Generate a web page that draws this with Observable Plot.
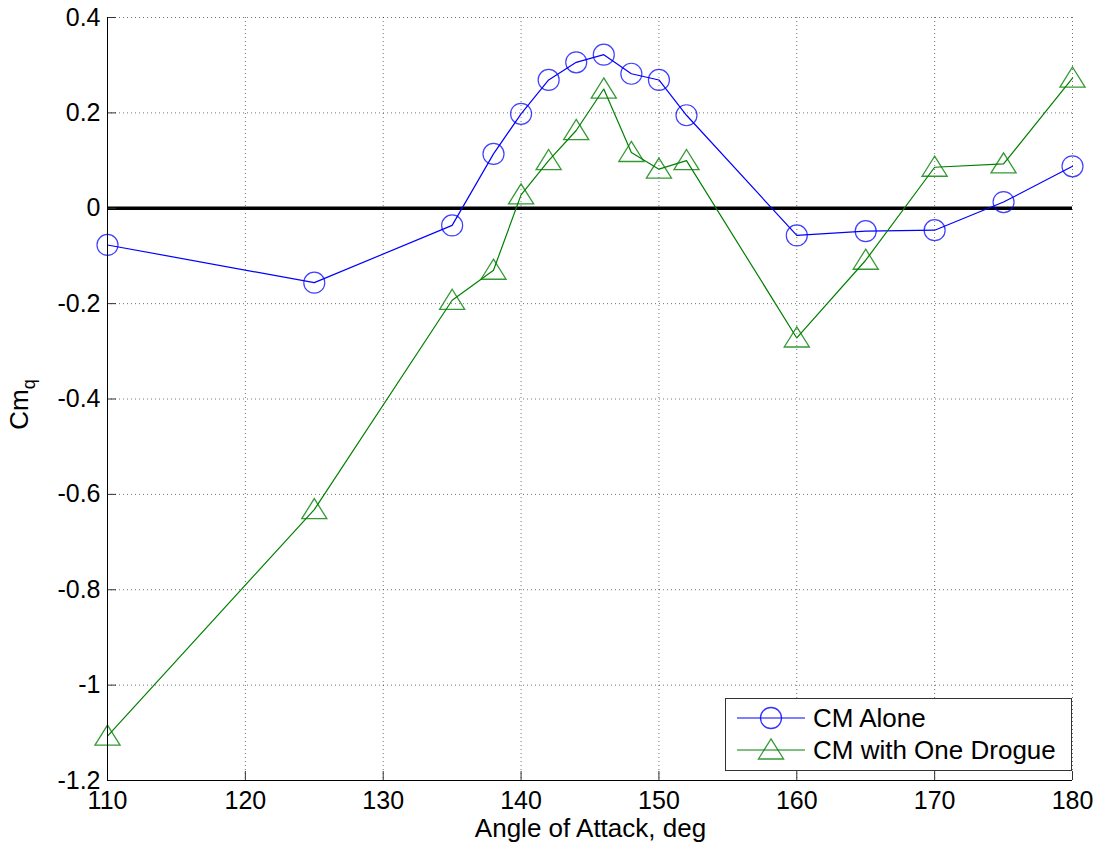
<!DOCTYPE html>
<html>
<head>
<meta charset="utf-8">
<script src="https://cdn.jsdelivr.net/npm/d3@7"></script>
<script src="https://cdn.jsdelivr.net/npm/@observablehq/plot@0.6"></script>
<style>
  html, body { margin: 0; padding: 0; background: #fff; }
  #chart svg { display: block; }
</style>
</head>
<body>
<div id="chart"></div>
<script>
// ---- data ----
const angles = [110, 125, 135, 138, 140, 142, 144, 146, 148, 150, 152, 160, 165, 170, 175, 180];
const cmAlone = [-0.077, -0.156, -0.036, 0.114, 0.198, 0.269, 0.306, 0.322, 0.282, 0.269, 0.195, -0.057, -0.048, -0.046, 0.013, 0.088];
const cmDrogue = [-1.107, -0.632, -0.193, -0.130, 0.028, 0.100, 0.163, 0.250, 0.117, 0.082, 0.100, -0.272, -0.109, 0.086, 0.093, 0.273];
const seriesNames = ["CM Alone", "CM with One Drogue"];
const seriesColors = ["#0000ff", "#008000"];
const xTicks = [110, 120, 130, 140, 150, 160, 170, 180];
const yTicks = [-1.2, -1, -0.8, -0.6, -0.4, -0.2, 0, 0.2, 0.4];
const xLabel = "Angle of Attack, deg";

const alone = angles.map((a, i) => ({x: a, y: cmAlone[i]}));
const drogue = angles.map((a, i) => ({x: a, y: cmDrogue[i]}));

const FONT = "'Liberation Sans', Arial, Helvetica, sans-serif";

// MATLAB-like triangle: apex up, roughly box-centred
const triangleSym = {
  draw(context, size) {
    const r = Math.sqrt(size / Math.PI);
    const w = r * 1.35, top = r * 1.19, bot = r * 0.97;
    context.moveTo(0, -top);
    context.lineTo(w, bot);
    context.lineTo(-w, bot);
    context.closePath();
  }
};

const xMin = xTicks[0], xMax = xTicks[xTicks.length - 1];
const yMin = yTicks[0], yMax = yTicks[yTicks.length - 1];

const fmt = d => String(+d.toFixed(1));

const plot = Plot.plot({
  width: 1102,
  height: 848,
  marginLeft: 107,
  marginRight: 30,
  marginTop: 17,
  marginBottom: 68,
  style: {fontFamily: FONT, fontSize: "25px", color: "#000", background: "#fff"},
  x: {domain: [xMin, xMax]},
  y: {domain: [yMin, yMax]},
  marks: [
    Plot.gridX(xTicks, {stroke: "#000", strokeOpacity: 0.55, strokeDasharray: "1,3"}),
    Plot.gridY(yTicks, {stroke: "#000", strokeOpacity: 0.55, strokeDasharray: "1,3"}),
    Plot.ruleY([0], {stroke: "#000", strokeWidth: 3.5}),
    Plot.line(alone, {x: "x", y: "y", stroke: seriesColors[0], strokeWidth: 1.2}),
    Plot.line(drogue, {x: "x", y: "y", stroke: seriesColors[1], strokeWidth: 1.2}),
    Plot.dot(alone, {x: "x", y: "y", r: 10.5, stroke: seriesColors[0], strokeWidth: 1.2, fill: "none", strokeOpacity: 0.75}),
    Plot.dot(drogue, {x: "x", y: "y", r: 9.3, symbol: triangleSym, stroke: seriesColors[1], strokeWidth: 1.3, fill: "none", strokeOpacity: 0.8}),
    // inward tick marks
    Plot.ruleX(xTicks, {x: d => d, y1: yMin, y2: yMin, insetBottom: 9, stroke: "#333"}),
    Plot.ruleY(yTicks, {y: d => d, x1: xMin, x2: xMin, insetRight: -9, stroke: "#333"}),
    // axis lines
    Plot.ruleX([xMin], {stroke: "#000"}),
    Plot.ruleY([yMin], {stroke: "#000"}),
    Plot.axisX(xTicks, {tickSize: 0, tickPadding: 11, fontSize: 25, tickFormat: fmt, label: null}),
    Plot.axisY(yTicks, {tickSize: 0, tickPadding: 7, fontSize: 25, tickFormat: fmt, label: null})
  ]
});

document.getElementById("chart").appendChild(plot);

const svg = d3.select(plot);

// x label
svg.append("text")
  .attr("x", (107 + 1072) / 2 + 1)
  .attr("y", 837)
  .attr("text-anchor", "middle")
  .attr("font-family", FONT)
  .attr("font-size", 26)
  .attr("fill", "#000")
  .text(xLabel);

// y label: Cm with subscript q
const yl = svg.append("text")
  .attr("transform", `translate(28, ${(17 + 780) / 2 + 6}) rotate(-90)`)
  .attr("text-anchor", "middle")
  .attr("font-family", FONT)
  .attr("font-size", 26)
  .attr("fill", "#000");
yl.append("tspan").text("Cm");
yl.append("tspan").attr("font-size", 18).attr("dy", 7).text("q");

// legend
const lg = svg.append("g").attr("font-family", FONT).attr("font-size", 26).attr("text-anchor", "start");
lg.append("rect")
  .attr("x", 725.5).attr("y", 698.5)
  .attr("width", 346).attr("height", 72)
  .attr("fill", "#fff").attr("stroke", "#333").attr("stroke-width", 1);
seriesNames.forEach((name, i) => {
  const cy = 718 + i * 32;
  lg.append("line")
    .attr("x1", 737).attr("x2", 805).attr("y1", cy).attr("y2", cy)
    .attr("stroke", seriesColors[i]).attr("stroke-width", 1.2);
  const sym = i === 0 ? d3.symbol(d3.symbolCircle, Math.PI * 10.5 * 10.5)
                      : d3.symbol(triangleSym, Math.PI * 9.3 * 9.3);
  lg.append("path")
    .attr("transform", `translate(771, ${cy})`)
    .attr("d", sym())
    .attr("fill", "none")
    .attr("stroke", seriesColors[i])
    .attr("stroke-opacity", 0.8)
    .attr("stroke-width", 1.3);
  lg.append("text")
    .attr("x", 813).attr("y", cy + 9)
    .attr("text-anchor", "start")
    .attr("fill", "#000")
    .text(name);
});
</script>
</body>
</html>
